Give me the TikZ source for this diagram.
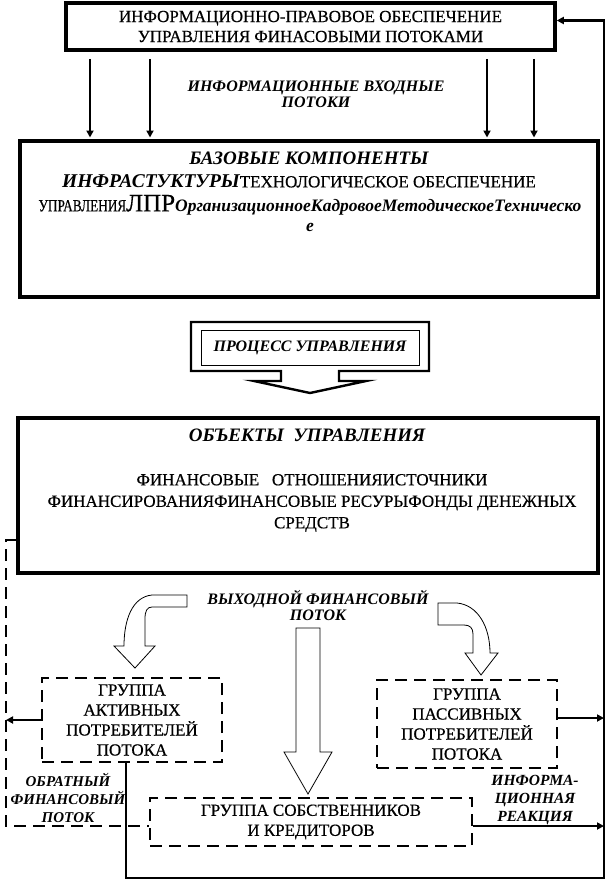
\documentclass[tikz,border=0pt]{standalone}
\usepackage{fontspec}
\setmainfont{Liberation Serif}[UprightFeatures={FakeBold=0.5}]
\usetikzlibrary{arrows.meta}
\begin{document}
\begin{tikzpicture}[x=1pt,y=-1pt,
  thickbox/.style={draw, line width=3.5pt, inner sep=0pt},
  dbox/.style={draw, line width=2.8pt, dash pattern=on 12pt off 7pt, inner sep=0pt, align=center, font=\fontsize{17}{20}\selectfont},
  fbline/.style={line width=2.8pt, dash pattern=on 12pt off 7pt},
  arr/.style={line width=2.2pt, -{Triangle[length=7pt,width=7pt]}},
  plain/.style={line width=2.2pt},
  bi/.style={font=\bfseries\itshape\fontsize{16}{16}\selectfont, align=center, inner sep=0pt},
  rm/.style={font=\fontsize{17}{20}\selectfont, align=center, inner sep=0pt},
  blk/.style={draw, line width=0.8pt, fill=white, line join=miter},
]
\useasboundingbox (0,0) rectangle (608,881);

% main boxes
\node[thickbox, rm, minimum width=489pt, minimum height=47pt] (b1) at (310.5,26.5)
  {ИНФОРМАЦИОННО-ПРАВОВОЕ ОБЕСПЕЧЕНИЕ\\УПРАВЛЕНИЯ ФИНАСОВЫМИ ПОТОКАМИ};
\node[thickbox, line width=4pt, minimum width=578pt, minimum height=156pt] (b2) at (309,219) {};
\node[thickbox, line width=4pt, minimum width=580pt, minimum height=155pt] (b3) at (308,495.5) {};

% input flows
\node[bi] (lin) at (316,94) {ИНФОРМАЦИОННЫЕ ВХОДНЫЕ\\ПОТОКИ};
\foreach \xx in {90,150,487,534}
  \draw[arr, shorten >=1.5pt] (b1.south -| \xx,0) ++(0,7) -- (b2.north -| \xx,0);

% box 2 text
\node[bi, font=\bfseries\itshape\fontsize{19}{20}\selectfont] (b2t1) at (309,158) {БАЗОВЫЕ КОМПОНЕНТЫ};
\node[rm] (b2t2) at (299,181) {{\bfseries\itshape\fontsize{19.5}{20}\selectfont ИНФРАСТУКТУРЫ}ТЕХНОЛОГИЧЕСКОЕ ОБЕСПЕЧЕНИЕ};
\node[rm] (b2t3) at (310,205) {\scalebox{0.78}[1]{УПРАВЛЕНИЯ}{\fontsize{25}{26}\selectfont ЛПР}{\bfseries\itshape\fontsize{17.5}{18}\selectfont ОрганизационноеКадровоеМетодическоеТехническо}};
\node[bi, font=\bfseries\itshape\fontsize{17.5}{18}\selectfont] (b2t4) at (310,227) {е};

% process arrow
\draw[line width=2.4pt, line join=miter] (191,322) -- (429,322) -- (429,371) -- (339,371) -- (339,381) -- (366,381)
  -- (310,393) -- (254,381) -- (281,381) -- (281,371) -- (191,371) -- cycle;
\node[draw, line width=0.9pt, minimum width=218pt, minimum height=35pt, inner sep=0pt,
  font=\bfseries\itshape\fontsize{16}{16}\selectfont] (proc) at (310,347.5) {ПРОЦЕСС УПРАВЛЕНИЯ};

% box 3 text
\node[bi, font=\bfseries\itshape\fontsize{19}{20}\selectfont] (b3t1) at (307,435) {ОБЪЕКТЫ\ \ УПРАВЛЕНИЯ};
\node[rm, font=\fontsize{17}{21.5}\selectfont] (b3t2) at (312,503)
  {ФИНАНСОВЫЕ\ \ \ ОТНОШЕНИЯИСТОЧНИКИ\\ФИНАНСИРОВАНИЯФИНАНСОВЫЕ РЕСУРЫФОНДЫ ДЕНЕЖНЫХ\\СРЕДСТВ};

% output flow label
\node[bi] (lout) at (318,605.5) {ВЫХОДНОЙ ФИНАНСОВЫЙ\\ПОТОК};

% block arrows
\draw[blk] (187,595) -- (152,595) .. controls (132,597) and (124,620) .. (124,646) -- (114,646) -- (135,668)
  -- (155,646) -- (145,646) -- (145,619) .. controls (145,611) and (147,607) .. (152,607) -- (187,607) -- cycle;
\draw[blk] (438,603) -- (457,603) .. controls (478,605) and (490,627) .. (490,653) -- (498,653) -- (481,675)
  -- (465,653) -- (473,653) -- (473,634) .. controls (473,628) and (470,625) .. (464,625) -- (438,625) -- cycle;
\draw[blk] (296,628) -- (320,628) -- (320,752) -- (332,752) -- (308,794) -- (284,752) -- (296,752) -- cycle;

% group boxes
\node[dbox, minimum width=180pt, minimum height=84pt] (act) at (132,720)
  {ГРУППА\\АКТИВНЫХ\\ПОТРЕБИТЕЛЕЙ\\ПОТОКА};
\node[dbox, minimum width=180pt, minimum height=88pt] (pas) at (467,724)
  {ГРУППА\\ПАССИВНЫХ\\ПОТРЕБИТЕЛЕЙ\\ПОТОКА};
\node[dbox, minimum width=322pt, minimum height=48pt] (own) at (311,822)
  {ГРУППА СОБСТВЕННИКОВ\\И КРЕДИТОРОВ};

% side labels
\node[bi, font=\bfseries\itshape\fontsize{15}{18}\selectfont] (lback) at (68,798) {ОБРАТНЫЙ\\ФИНАНСОВЫЙ\\ПОТОК};
\node[bi, font=\bfseries\itshape\fontsize{15.5}{18}\selectfont] (linfo) at (535,800) {ИНФОРМА-\\ЦИОННАЯ\\РЕАКЦИЯ};

% connectors
\coordinate (lx) at (6,722);
\coordinate (bx) at (126,878);
\coordinate (rx) at (604,878);
\draw[arr] (act.west) -- (act.west -| lx);
\draw[fbline] (b3.south west) ++(0,-35) -| ([yshift=-4pt]own.west -| lx) -- ([yshift=-4pt]own.west);
\draw[plain, -{Triangle[length=7pt,width=7pt]}] (act.south -| bx) -- (bx) -- (rx) |- ([yshift=6pt]b1.east);
\draw[arr] ([yshift=6pt]pas.east) -- ([yshift=6pt]pas.east -| rx);
\draw[arr] ([yshift=-4pt]own.east) -- ([yshift=-4pt]own.east -| rx);
\end{tikzpicture}
\end{document}
